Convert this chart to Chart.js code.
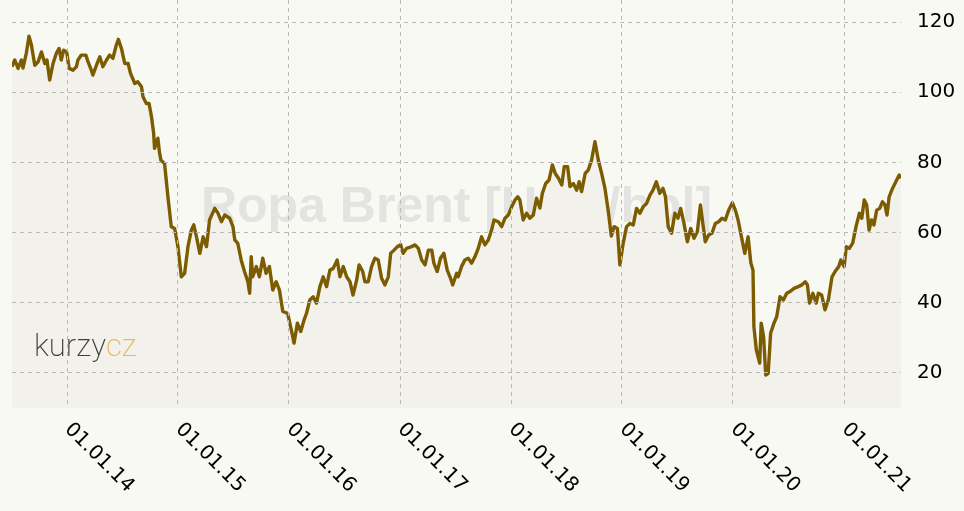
<!DOCTYPE html>
<html>
<head>
<meta charset="utf-8">
<script src="https://cdn.jsdelivr.net/npm/chart.js@4.4.1/dist/chart.umd.min.js"></script>
<style>
  html, body { margin: 0; padding: 0; background: #f9f9f4; }
  #wrap { width: 964px; height: 511px; position: relative; }
</style>
</head>
<body>
<div id="wrap"><canvas id="chart1"></canvas></div>
<script>
// Brent, USD/bbl
const dates = [
  "2013-07-04","2013-07-13","2013-07-24","2013-08-04","2013-08-09","2013-08-20","2013-08-29","2013-09-06",
  "2013-09-17","2013-09-28","2013-10-09","2013-10-20","2013-10-27","2013-11-05","2013-11-16","2013-11-27",
  "2013-12-06","2013-12-13","2013-12-21","2013-12-31","2014-01-08","2014-01-21","2014-02-01","2014-02-06",
  "2014-02-17","2014-03-04","2014-03-11","2014-03-22","2014-03-27","2014-04-10","2014-04-19","2014-04-29",
  "2014-05-11","2014-05-21","2014-06-01","2014-06-12","2014-06-19","2014-06-29","2014-07-10","2014-07-21",
  "2014-07-29","2014-08-12","2014-08-22","2014-09-03","2014-09-08","2014-09-19","2014-09-28","2014-10-06",
  "2014-10-13","2014-10-16","2014-10-27","2014-11-01","2014-11-06","2014-11-18","2014-11-29","2014-12-10",
  "2014-12-21","2015-01-01","2015-01-12","2015-01-23","2015-02-03","2015-02-14","2015-02-22","2015-03-03",
  "2015-03-14","2015-03-25","2015-04-05","2015-04-15","2015-05-02","2015-05-13","2015-05-24","2015-06-04",
  "2015-06-20","2015-07-01","2015-07-07","2015-07-17","2015-07-28","2015-08-08","2015-08-19","2015-08-25",
  "2015-08-30","2015-09-04","2015-09-16","2015-09-26","2015-10-07","2015-10-18","2015-10-29","2015-11-09",
  "2015-11-20","2015-12-01","2015-12-12","2015-12-28","2016-01-09","2016-01-18","2016-01-29","2016-02-09",
  "2016-02-20","2016-02-28","2016-03-10","2016-03-21","2016-04-01","2016-04-12","2016-04-23","2016-05-04",
  "2016-05-15","2016-05-26","2016-06-08","2016-06-17","2016-06-28","2016-07-09","2016-07-20","2016-07-30",
  "2016-08-11","2016-08-19","2016-08-31","2016-09-07","2016-09-18","2016-09-29","2016-10-10","2016-10-21",
  "2016-11-01","2016-11-12","2016-11-23","2016-12-01","2016-12-12","2016-12-23","2017-01-03","2017-01-11",
  "2017-01-22","2017-02-08","2017-02-19","2017-03-02","2017-03-13","2017-03-24","2017-04-04","2017-04-15",
  "2017-04-22","2017-05-03","2017-05-14","2017-05-25","2017-06-05","2017-06-14","2017-06-23","2017-07-06",
  "2017-07-11","2017-07-22","2017-08-02","2017-08-13","2017-08-24","2017-09-04","2017-09-15","2017-09-26",
  "2017-10-07","2017-10-18","2017-10-29","2017-11-06","2017-11-20","2017-12-01","2017-12-12","2017-12-23",
  "2018-01-03","2018-01-14","2018-01-23","2018-01-30","2018-02-10","2018-02-21","2018-03-04","2018-03-15",
  "2018-03-26","2018-04-06","2018-04-14","2018-04-25","2018-05-06","2018-05-17","2018-05-26","2018-06-06",
  "2018-06-17","2018-06-25","2018-07-06","2018-07-14","2018-07-25","2018-08-05","2018-08-13","2018-08-21",
  "2018-09-02","2018-09-12","2018-09-23","2018-10-04","2018-10-15","2018-10-26","2018-11-06","2018-11-17",
  "2018-11-27","2018-12-06","2018-12-17","2018-12-25","2019-01-05","2019-01-16","2019-01-27","2019-02-07",
  "2019-02-18","2019-03-01","2019-03-12","2019-03-23","2019-04-03","2019-04-13","2019-04-24","2019-05-05",
  "2019-05-16","2019-05-24","2019-06-02","2019-06-13","2019-06-24","2019-07-04","2019-07-13","2019-07-24",
  "2019-08-04","2019-08-15","2019-08-26","2019-09-06","2019-09-16","2019-09-24","2019-10-02","2019-10-13",
  "2019-10-24","2019-11-04","2019-11-15","2019-11-26","2019-12-07","2019-12-18","2019-12-30","2020-01-09",
  "2020-01-18","2020-01-29","2020-02-09","2020-02-20","2020-02-29","2020-03-07","2020-03-10","2020-03-18",
  "2020-03-29","2020-04-03","2020-04-11","2020-04-18","2020-04-26","2020-05-04","2020-05-15","2020-05-24",
  "2020-06-04","2020-06-15","2020-06-26","2020-07-07","2020-07-20","2020-08-03","2020-08-15","2020-08-26",
  "2020-09-02","2020-09-09","2020-09-20","2020-10-01","2020-10-08","2020-10-19","2020-10-30","2020-11-10",
  "2020-11-22","2020-12-02","2020-12-14","2020-12-21","2021-01-01","2021-01-08","2021-01-18","2021-01-29",
  "2021-02-09","2021-02-20","2021-02-28","2021-03-08","2021-03-16","2021-03-24","2021-04-01","2021-04-09",
  "2021-04-18","2021-04-28","2021-05-07","2021-05-15","2021-05-22","2021-05-29","2021-06-09","2021-06-20",
  "2021-07-01","2021-07-07"
];
const prices = [
  107.3,109.2,106.8,109.2,106.9,111.1,116.0,113.4,
  107.7,108.7,111.5,108.2,109.2,103.5,108.2,111.1,
  112.5,109.2,112.0,111.5,106.8,106.3,107.3,109.2,
  110.6,110.6,108.7,106.3,104.9,108.2,110.1,107.3,
  109.2,110.6,109.7,113.4,115.1,112.5,108.2,108.2,
  105.4,102.5,103.0,101.6,98.7,96.8,96.8,93.0,
  88.3,84.0,86.9,83.0,80.6,79.7,70.2,61.7,
  61.2,56.0,47.4,48.4,56.0,60.7,62.2,58.8,
  54.1,58.8,56.0,63.6,66.9,65.5,63.1,65.0,
  64.1,61.7,57.9,56.9,52.2,48.9,46.0,42.7,
  53.1,47.4,50.3,47.4,52.7,48.4,50.3,43.6,
  46.0,43.6,37.5,37.0,32.3,28.5,34.2,31.8,
  35.1,37.0,40.8,41.7,39.9,44.6,47.4,44.6,
  49.3,49.8,52.2,47.4,50.3,47.4,46.0,42.2,
  46.5,50.8,48.9,46.0,46.0,50.3,52.7,52.2,
  47.0,45.1,47.4,54.1,55.0,56.0,56.5,54.1,
  55.5,56.0,56.5,55.5,52.2,50.8,55.0,55.0,
  51.3,48.9,52.7,54.1,49.3,47.4,45.1,48.4,
  47.4,50.3,52.2,52.7,51.3,53.1,55.5,58.8,
  56.5,57.9,60.7,63.6,63.1,61.7,64.1,65.0,
  67.4,69.3,70.2,69.3,63.6,65.5,64.1,65.0,
  69.8,67.0,71.2,74.0,75.0,79.3,76.9,75.5,
  73.6,78.8,78.8,73.1,74.0,72.1,74.5,71.7,
  76.9,77.8,80.7,85.9,80.7,76.9,72.6,66.0,
  59.0,61.7,61.2,50.8,57.0,61.7,62.6,62.2,
  66.9,65.5,67.4,68.3,70.7,72.1,74.5,71.2,
  72.6,70.2,61.7,59.8,65.5,64.1,66.9,62.6,
  57.4,61.2,58.4,60.3,67.9,62.6,57.4,59.3,
  59.8,62.6,63.1,64.1,63.6,66.4,68.5,66.4,
  63.6,58.8,54.1,58.8,51.3,49.3,33.2,26.6,
  22.8,34.2,30.3,19.4,19.9,31.3,34.2,36.0,
  41.7,40.8,42.7,43.2,44.1,44.6,45.1,46.0,
  45.1,39.9,42.7,39.9,42.7,42.2,38.0,40.8,
  47.4,48.9,50.3,52.2,50.3,56.0,55.5,57.0,
  61.7,65.5,64.1,69.3,67.9,60.7,63.6,62.2,
  66.4,66.9,68.8,67.9,65.0,70.2,72.6,74.5,
  76.4,75.5
];
const yearTicks = ["2014-01-01","2015-01-01","2016-01-01","2017-01-01","2018-01-01","2019-01-01","2020-01-01","2021-01-01"];
const yTicks = [20, 40, 60, 80, 100, 120];

function fmtDate(v) {
  const d = new Date(v);
  const dd = String(d.getUTCDate()).padStart(2, "0");
  const mm = String(d.getUTCMonth() + 1).padStart(2, "0");
  const yy = String(d.getUTCFullYear()).slice(2);
  return dd + "." + mm + "." + yy;
}

// watermark under the fill, logo on top of it
const decor = {
  id: "decor",
  beforeDatasetsDraw(chart) {
    const { ctx, chartArea } = chart;
    const cx = (chartArea.left + chartArea.right) / 2;
    const cy = (chartArea.top + chartArea.bottom) / 2;
    ctx.save();
    ctx.font = "bold 50px 'Liberation Sans', Arial, sans-serif";
    ctx.fillStyle = "#e3e3e1";
    ctx.textAlign = "center";
    ctx.textBaseline = "alphabetic";
    ctx.fillText("Ropa Brent [USD/bbl]", cx, cy + 18);
    ctx.restore();
  },
  afterDatasetsDraw(chart) {
    const { ctx, chartArea } = chart;
    ctx.save();
    ctx.font = "200 31px Roboto, 'Open Sans', sans-serif";
    ctx.textBaseline = "alphabetic";
    ctx.textAlign = "left";
    const x = chartArea.left + 22, y = chartArea.top + 356;
    ctx.fillStyle = "#404040";
    ctx.fillText("kurzy", x, y);
    const w = ctx.measureText("kurzy").width;
    ctx.fillStyle = "#e6bb55";
    ctx.fillText("cz", x + w, y);
    ctx.restore();
  },
  afterDraw(chart) {
    // x labels turned 45 degrees clockwise, starting at the tick
    const { ctx, chartArea } = chart;
    const xs = chart.scales.x;
    ctx.save();
    ctx.font = "20px 'DejaVu Sans', Verdana, sans-serif";
    ctx.fillStyle = "#000";
    ctx.textAlign = "left";
    ctx.textBaseline = "alphabetic";
    xs.ticks.forEach(t => {
      const px = xs.getPixelForValue(t.value);
      ctx.save();
      ctx.translate(px - 3, chartArea.bottom + 22);
      ctx.rotate(Math.PI / 4);
      ctx.fillText(fmtDate(t.value), 0, 0);
      ctx.restore();
    });
    ctx.restore();
  }
};

const points = dates.map((d, i) => ({ x: Date.parse(d), y: prices[i] }));

const ctx = document.getElementById("chart1");
const myChart = new Chart(ctx, {
  type: "line",
  data: {
    datasets: [
      {
        label: "Ropa Brent",
        data: points,
        borderColor: "#7c5c00",
        borderWidth: 3.4,
        borderJoinStyle: "round",
        backgroundColor: "#f3f1ec",
        fill: "start",
        pointRadius: 0,
        tension: 0,
      },
    ],
  },
  options: {
    responsive: true,
    maintainAspectRatio: false,
    animation: false,
    layout: { padding: { left: 12, right: 0, top: 0, bottom: 103 } },
    plugins: {
      legend: { display: false },
      tooltip: { enabled: false },
    },
    scales: {
      x: {
        type: "linear",
        min: Date.parse(dates[0]),
        max: Date.parse(dates[dates.length - 1]),
        afterBuildTicks: (scale) => {
          scale.ticks = yearTicks.map(d => ({ value: Date.parse(d) }));
        },
        afterFit: (scale) => {
          scale.height = 0;
          scale.paddingLeft = 0;
          scale.paddingRight = 0;
        },
        ticks: { display: false },
        grid: {
          z: 1,
          color: "#b9b9b9",
          lineWidth: 1,
          drawTicks: false,
        },
        border: { display: false, dash: [4, 4] },
      },
      y: {
        position: "right",
        min: 10,
        max: 126.3,
        afterBuildTicks: (scale) => {
          scale.ticks = yTicks.map(v => ({ value: v }));
        },
        afterFit: (scale) => {
          scale.width = 63;
          scale.paddingTop = 0;
          scale.paddingBottom = 0;
        },
        ticks: {
          padding: 16,
          color: "#000",
          font: { family: "'DejaVu Sans', Verdana, sans-serif", size: 20 },
        },
        grid: {
          z: 1,
          color: "#b9b9b9",
          lineWidth: 1,
          drawTicks: false,
        },
        border: { display: false, dash: [4, 4] },
      },
    },
  },
  plugins: [decor],
});
</script>
</body>
</html>
